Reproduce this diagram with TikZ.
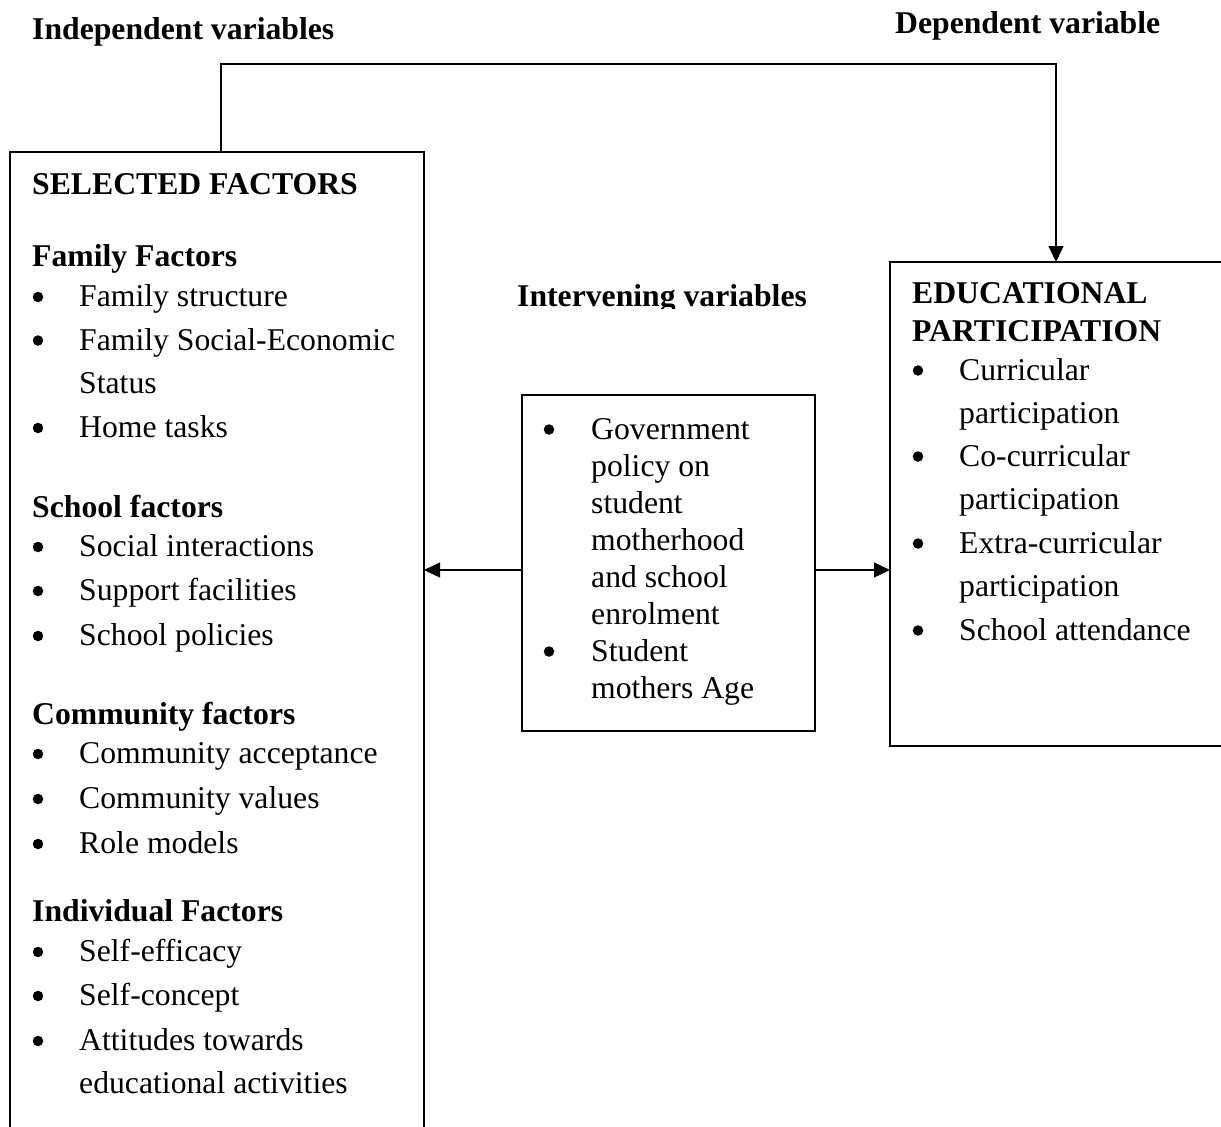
\documentclass[tikz,border=0pt]{standalone}
\usepackage{fontspec}
\setmainfont{Liberation Serif}
\usetikzlibrary{arrows.meta}
\newcommand\BL[5]{\node[bul] (#1b) at (#2,#4-9.5) {}; \node[txt] (#1) at (#3,#4) {#5};}
\begin{document}
\begin{tikzpicture}[x=1pt,y=-1pt,
  txt/.style={anchor=base west,inner sep=0pt,font=\fontsize{31.7}{38}\selectfont},
  hdg/.style={anchor=base west,inner sep=0pt,font=\fontsize{31.7}{38}\selectfont\bfseries},
  bul/.style={circle,fill=black,inner sep=0pt,minimum size=10.5pt},
  frame/.style={line width=1.3pt,black},
  arr/.style={frame,-{Triangle[length=16pt,width=15pt]}},
  boxarea/.style={inner sep=0pt,outer sep=0pt,anchor=north west,draw=none}]
\useasboundingbox[fill=white] (0,0) rectangle (1221,1127);

% box areas
\node[boxarea,minimum width=414pt,minimum height=975pt] (left) at (10,152) {};
\node[boxarea,minimum width=331pt,minimum height=484pt] (right) at (890,262) {};
\node[boxarea,minimum width=293pt,minimum height=336pt,draw,frame] (mid) at (522,395) {};

% open frames
\draw[frame] (left.south west) -- (left.north west) -- (left.north east) -- (left.south east);
\draw[frame] (right.north east) -- (right.north west) -- (right.south west) -- (right.south east);

% connectors
\coordinate (c1) at (221,64);
\coordinate (c2) at (1056,64);
\draw[arr] (c1 |- left.north) -- (c1) -- (c2) -- (c2 |- right.north);
\coordinate (ay) at (0,570);
\draw[arr] (ay -| mid.west) -- (ay -| left.east);
\draw[arr] (ay -| mid.east) -- (ay -| right.west);

\begin{scope}[shift={(0,1.5)}]
% top labels
\node[hdg] (indep) at (32,38) {Independent variables};
\node[hdg] (dep) at (895,32) {Dependent variable};
\begin{scope}
\clip (500,270) rectangle (830,307);
\node[hdg] (interv) at (517,305) {Intervening variables};
\end{scope}

% left box
\node[hdg] (lsel) at (32,193) {SELECTED FACTORS};
\node[hdg] (lfam) at (32,265) {Family Factors};
\BL{l1}{38}{79}{305}{Family structure}
\BL{l2}{38}{79}{348.5}{Family Social-Economic}
\node[txt] (l2c) at (79,391.5) {Status};
\BL{l3}{38}{79}{436}{Home tasks}
\node[hdg] (lsch) at (32,516) {School factors};
\BL{l4}{38}{79}{555}{Social interactions}
\BL{l5}{38}{79}{599}{Support facilities}
\BL{l6}{38}{79}{644}{School policies}
\node[hdg] (lcom) at (32,723) {Community factors};
\BL{l7}{38}{79}{762}{Community acceptance}
\BL{l8}{38}{79}{807}{Community values}
\BL{l9}{38}{79}{852}{Role models}
\node[hdg] (lind) at (32,920) {Individual Factors};
\BL{l10}{38}{79}{960}{Self-efficacy}
\BL{l11}{38}{79}{1004}{Self-concept}
\BL{l12}{38}{79}{1049}{Attitudes towards}
\node[txt] (l12c) at (79,1092) {educational activities};

% middle box
\BL{m1}{549}{591}{437.5}{Government}
\node[txt] (m1c) at (591,474.5) {policy on};
\node[txt] (m1d) at (591,511.5) {student};
\node[txt] (m1e) at (591,548.5) {motherhood};
\node[txt] (m1f) at (591,585.5) {and school};
\node[txt] (m1g) at (591,622.5) {enrolment};
\BL{m2}{549}{591}{659.5}{Student}
\node[txt] (m2c) at (591,696.5) {mothers Age};

% right box
\node[hdg] (redu) at (912,302) {EDUCATIONAL};
\node[hdg] (rpar) at (912,340) {PARTICIPATION};
\BL{r1}{918}{959}{378.5}{Curricular}
\node[txt] (r1c) at (959,421.5) {participation};
\BL{r2}{918}{959}{464.5}{Co-curricular}
\node[txt] (r2c) at (959,507.5) {participation};
\BL{r3}{918}{959}{551.5}{Extra-curricular}
\node[txt] (r3c) at (959,594.5) {participation};
\BL{r4}{918}{959}{638.5}{School attendance}
\end{scope}
\end{tikzpicture}
\end{document}
